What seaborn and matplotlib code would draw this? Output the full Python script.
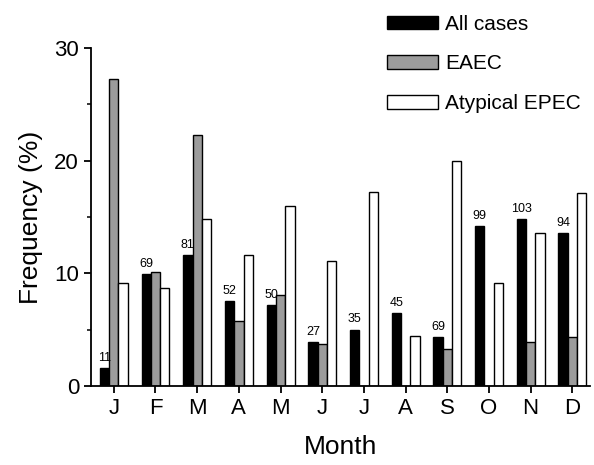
import matplotlib
matplotlib.use("Agg")
import matplotlib.pyplot as plt
import seaborn as sns
import pandas as pd
from matplotlib.ticker import MultipleLocator
from matplotlib.patches import Patch

months = ["Jan", "Feb", "Mar", "Apr", "May", "Jun", "Jul", "Aug", "Sep", "Oct", "Nov", "Dec"]
month_labels = ["J", "F", "M", "A", "M", "J", "J", "A", "S", "O", "N", "D"]
series = ["All cases", "EAEC", "Atypical EPEC"]
all_cases = [1.6, 9.9, 11.6, 7.5, 7.2, 3.9, 5.0, 6.5, 4.3, 14.2, 14.8, 13.6]
eaec = [27.2, 10.1, 22.3, 5.8, 8.05, 3.7, 0, 0, 3.3, 0, 3.9, 4.3]
atypical_epec = [9.1, 8.7, 14.8, 11.6, 16.0, 11.1, 17.2, 4.4, 20.0, 9.1, 13.6, 17.1]
case_counts = ["11", "69", "81", "52", "50", "27", "35", "45", "69", "99", "103", "94"]
colors = ["black", "#9c9c9c", "white"]

df = pd.DataFrame({
    "month": months * 3,
    "value": all_cases + eaec + atypical_epec,
    "series": [series[0]] * 12 + [series[1]] * 12 + [series[2]] * 12,
})

sns.set_style("ticks")
plt.rcParams["font.family"] = ["Liberation Sans", "DejaVu Sans"]
for k in ["text.color", "axes.labelcolor", "xtick.color", "ytick.color", "axes.edgecolor"]:
    plt.rcParams[k] = "black"

fig = plt.figure(figsize=(5.94, 4.65), dpi=100)
ax = fig.add_axes([0.153, 0.170, 0.840, 0.727])

sns.barplot(data=df, x="month", y="value", hue="series", order=months,
            hue_order=series, palette=colors, edgecolor="black", linewidth=1.0,
            width=0.67, gap=0, ax=ax, legend=False)

ax.bar_label(ax.containers[0], labels=case_counts, padding=3, fontsize=9)

ax.set_xlim(-0.55, 11.42)
ax.set_ylim(0, 30)
ax.yaxis.set_major_locator(MultipleLocator(10))
ax.yaxis.set_minor_locator(MultipleLocator(5))
ax.set_xticks(range(12))
ax.set_xticklabels(month_labels)
ax.tick_params(axis="both", which="major", labelsize=16, length=5, width=1.3, direction="out", color="black")
ax.tick_params(axis="y", which="minor", length=3, width=1.1)
ax.set_xlabel("Month", fontsize=19, labelpad=12)
ax.set_ylabel("Frequency (%)", fontsize=19, labelpad=8)
for s in ["top", "right"]:
    ax.spines[s].set_visible(False)
for s in ["left", "bottom"]:
    ax.spines[s].set_linewidth(1.3)

handles = [Patch(facecolor=c, edgecolor="black", linewidth=1.0) for c in colors]
fig.legend(handles, series, loc="upper left", bbox_to_anchor=(0.627, 1.0),
           frameon=False, fontsize=15, handlelength=2.45, handleheight=0.6,
           labelspacing=1.0, handletextpad=0.35, borderaxespad=0.3)

fig.savefig("out.png", dpi=100)
